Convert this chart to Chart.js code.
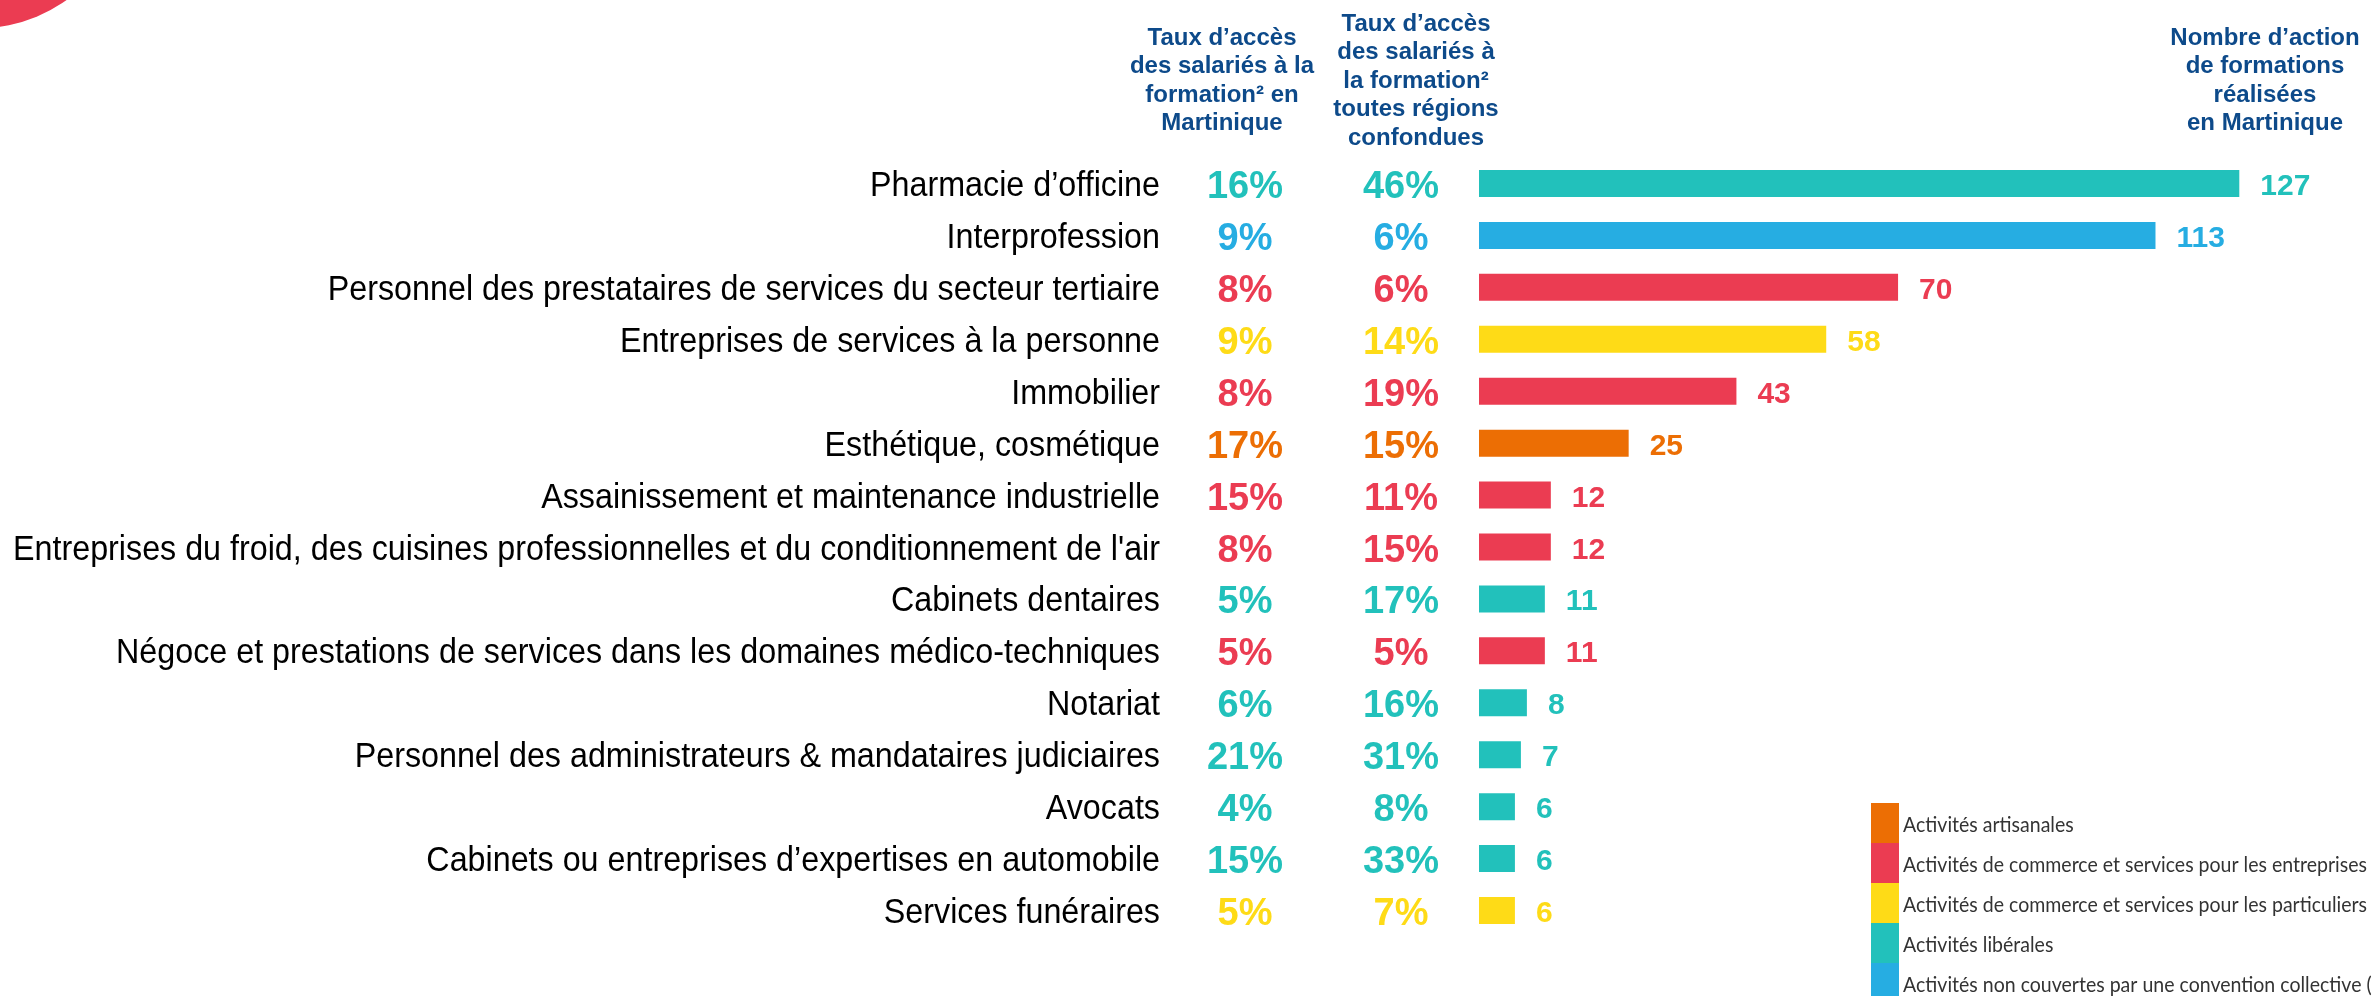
<!DOCTYPE html>
<html lang="fr">
<head>
<meta charset="utf-8">
<title>Accès à la formation - Martinique</title>
<script src="https://cdn.jsdelivr.net/npm/chart.js@4.4.1/dist/chart.umd.min.js"></script>
<style>
  html, body { margin: 0; padding: 0; background: #fff; }
  #wrap { position: relative; width: 2374px; height: 996px; }
</style>
</head>
<body>
<div id="wrap"><canvas id="formationChart"></canvas></div>
<script>
// Branches (top to bottom)
const branches = [
    "Pharmacie d’officine",
    "Interprofession",
    "Personnel des prestataires de services du secteur tertiaire",
    "Entreprises de services à la personne",
    "Immobilier",
    "Esthétique, cosmétique",
    "Assainissement et maintenance industrielle",
    "Entreprises du froid, des cuisines professionnelles et du conditionnement de l'air",
    "Cabinets dentaires",
    "Négoce et prestations de services dans les domaines médico-techniques",
    "Notariat",
    "Personnel des administrateurs & mandataires judiciaires",
    "Avocats",
    "Cabinets ou entreprises d’expertises en automobile",
    "Services funéraires"
];

// index into groupNames / groupColors
const branchGroup = [3, 4, 1, 2, 1, 0, 1, 1, 3, 1, 3, 3, 3, 3, 2];

const tauxMartinique = [16, 9, 8, 9, 8, 17, 15, 8, 5, 5, 6, 21, 4, 15, 5];
const tauxToutesRegions = [46, 6, 6, 14, 19, 15, 11, 15, 17, 5, 16, 31, 8, 33, 7];
const nbActions = [127, 113, 70, 58, 43, 25, 12, 12, 11, 11, 8, 7, 6, 6, 6];

const groupNames = [
    "Activités artisanales",
    "Activités de commerce et services pour les entreprises",
    "Activités de commerce et services pour les particuliers",
    "Activités libérales",
    "Activités non couvertes par une convention collective ("
];
const groupColors = ["#EC6E04", "#EB3C52", "#FEDB17", "#22C1BB", "#26ADE2"];

const headerMartinique = ["Taux d’accès", "des salariés à la", "formation² en", "Martinique"];
const headerToutes = ["Taux d’accès", "des salariés à", "la formation²", "toutes régions", "confondues"];
const headerActions = ["Nombre d’action", "de formations", "réalisées", "en Martinique"];

const barColors = branchGroup.map(g => groupColors[g]);

// draw text squeezed horizontally (narrow look of the original)
function squeezed(ctx, text, x, y, sx) {
    ctx.save();
    ctx.translate(x, y);
    ctx.scale(sx, 1);
    ctx.fillText(text, 0, 0);
    ctx.restore();
}

const extras = {
    id: "extras",
    beforeDraw(chart) {
        const ctx = chart.ctx;
        ctx.save();
        // red corner decoration
        ctx.fillStyle = "#EB3C52";
        ctx.beginPath();
        ctx.arc(-20, -120, 148, 0, Math.PI * 2);
        ctx.fill();
        ctx.restore();
    },
    afterDatasetsDraw(chart) {
        const ctx = chart.ctx;
        const yScale = chart.scales.y;
        const bars = chart.getDatasetMeta(0).data;
        ctx.save();

        // branch names
        ctx.font = "35px 'Liberation Sans', Arial, sans-serif";
        ctx.fillStyle = "#000";
        ctx.textAlign = "right";
        ctx.textBaseline = "alphabetic";
        let widest = 0;
        branches.forEach(b => { widest = Math.max(widest, ctx.measureText(b).width); });
        const sx = 1147 / widest;
        branches.forEach((b, i) => {
            squeezed(ctx, b, 1160, yScale.getPixelForValue(i) + 12.5, sx);
        });

        // percentage columns
        ctx.font = "bold 38px 'Liberation Sans', Arial, sans-serif";
        ctx.textAlign = "center";
        branches.forEach((b, i) => {
            const py = yScale.getPixelForValue(i) + 14.5;
            ctx.fillStyle = barColors[i];
            ctx.fillText(tauxMartinique[i] + "%", 1245, py);
            ctx.fillText(tauxToutesRegions[i] + "%", 1401, py);
        });

        // bar values
        ctx.font = "bold 30px 'Liberation Sans', Arial, sans-serif";
        ctx.textAlign = "left";
        bars.forEach((bar, i) => {
            ctx.fillStyle = barColors[i];
            ctx.fillText(String(nbActions[i]), bar.x + 21, bar.y + 11.5);
        });

        // column headers
        ctx.font = "bold 24px 'Liberation Sans', Arial, sans-serif";
        ctx.fillStyle = "#0D4A8A";
        ctx.textAlign = "center";
        ctx.textBaseline = "middle";
        headerMartinique.forEach((t, k) => ctx.fillText(t, 1222, 38 + k * 28.5));
        headerToutes.forEach((t, k) => ctx.fillText(t, 1416, 24 + k * 28.5));
        headerActions.forEach((t, k) => ctx.fillText(t, 2265, 38 + k * 28.5));

        // legend
        ctx.font = "21px Lato, 'Open Sans', sans-serif";
        const lsx = 464 / ctx.measureText(groupNames[1]).width;
        ctx.textAlign = "left";
        groupNames.forEach((name, k) => {
            const top = 803 + k * 40;
            ctx.fillStyle = groupColors[k];
            ctx.fillRect(1871, top, 28, 40);
            ctx.fillStyle = "#333";
            squeezed(ctx, name, 1903, top + 22, lsx);
        });

        ctx.restore();
    }
};

new Chart(document.getElementById("formationChart"), {
    type: "bar",
    data: {
        labels: branches,
        datasets: [{
            label: "Nombre d’actions de formation",
            data: nbActions,
            backgroundColor: barColors,
            borderWidth: 0,
            barPercentage: 0.52,
            categoryPercentage: 1
        }]
    },
    options: {
        indexAxis: "y",
        responsive: true,
        maintainAspectRatio: false,
        devicePixelRatio: 1,
        animation: false,
        layout: {
            padding: { left: 1479, right: 0, top: 157.5, bottom: 59.5 }
        },
        scales: {
            x: { display: false, min: 0, max: 149.5 },
            y: { display: false }
        },
        plugins: {
            legend: { display: false },
            tooltip: { enabled: false }
        }
    },
    plugins: [extras]
});
</script>
</body>
</html>
